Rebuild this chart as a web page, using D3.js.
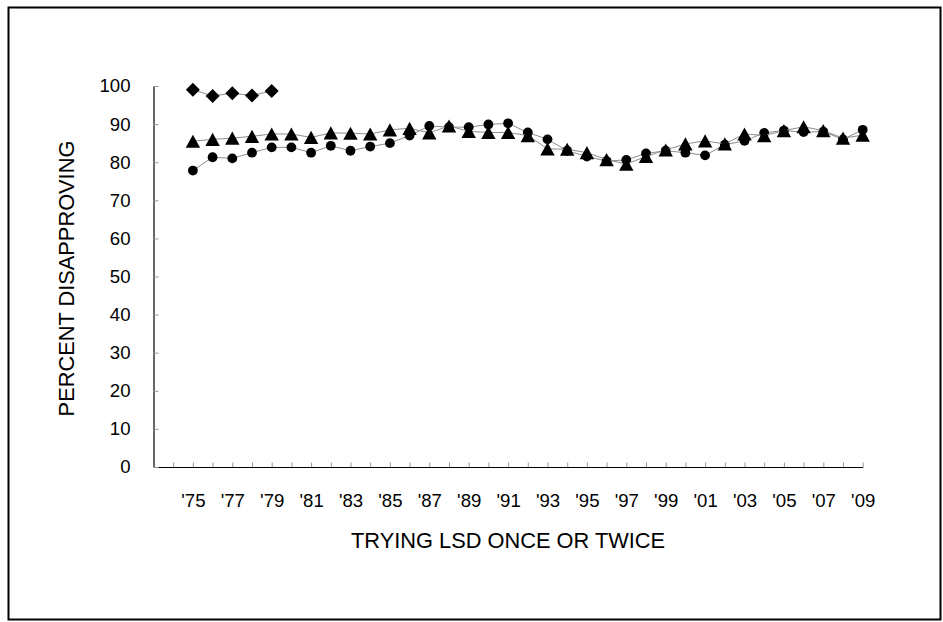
<!DOCTYPE html>
<html>
<head>
<meta charset="utf-8">
<script src="https://cdn.jsdelivr.net/npm/d3@7"></script>
<style>
  html, body { margin: 0; padding: 0; background: #fff; }
  svg { display: block; }
  text { font-family: "Liberation Sans", Arial, sans-serif; fill: #000; }
</style>
</head>
<body>
<svg id="chart" width="943" height="622"></svg>
<script>
// ---- data ----
const years = [1975,1976,1977,1978,1979,1980,1981,1982,1983,1984,1985,1986,1987,1988,1989,1990,1991,1992,1993,1994,1995,1996,1997,1998,1999,2000,2001,2002,2003,2004,2005,2006,2007,2008,2009];
const diamondYears = [1975,1976,1977,1978,1979];
const diamondValues = [99.0, 97.4, 98.1, 97.5, 98.7];
const triangleValues = [85.5,86.0,86.3,86.8,87.4,87.4,86.5,87.7,87.6,87.4,88.5,88.9,87.7,89.5,88.1,87.8,87.8,87.0,83.5,83.4,82.5,80.7,79.5,81.5,83.2,84.8,85.6,84.8,87.4,87.0,88.3,89.3,88.3,86.3,87.1];
const circleValues = [77.8,81.3,81.0,82.5,83.9,83.9,82.5,84.3,83.0,84.1,85.0,87.0,89.5,89.2,89.2,89.9,90.2,87.8,86.0,83.0,81.5,80.3,80.6,82.3,83.0,82.5,81.8,84.6,85.6,87.7,88.3,87.9,88.0,86.0,88.5];
const xTickYears = [1974,1975,1976,1977,1978,1979,1980,1981,1982,1983,1984,1985,1986,1987,1988,1989,1990,1991,1992,1993,1994,1995,1996,1997,1998,1999,2000,2001,2002,2003,2004,2005,2006,2007,2008,2009];
const xLabelYears = [1975,1977,1979,1981,1983,1985,1987,1989,1991,1993,1995,1997,1999,2001,2003,2005,2007,2009];
const xLabels = ["'75","'77","'79","'81","'83","'85","'87","'89","'91","'93","'95","'97","'99","'01","'03","'05","'07","'09"];
const yTicks = [0,10,20,30,40,50,60,70,80,90,100];
const xTitle = "TRYING LSD ONCE OR TWICE";
const yTitle = "PERCENT DISAPPROVING";

// ---- layout ----
const svg = d3.select("#chart");
const plot = { left: 153.5, right: 862.7, top: 86, bottom: 467 };
const x = d3.scaleLinear().domain([1973, 2009]).range([plot.left, plot.right]);
const y = d3.scaleLinear().domain([0, 100]).range([plot.bottom, plot.top]);

// frame
svg.append("rect").attr("x", 8.5).attr("y", 7.5).attr("width", 932).attr("height", 612)
  .attr("fill", "none").attr("stroke", "#000").attr("stroke-width", 2);

const labelFont = 18.6;
const titleFont = 21.8;

// x axis
const labelMap = new Map(xLabelYears.map((yr, i) => [yr, xLabels[i]]));
const xAxis = d3.axisBottom(x).tickValues(xTickYears).tickSizeInner(-4.5).tickSizeOuter(0)
  .tickPadding(27).tickFormat(d => labelMap.get(d) || "");
const gx = svg.append("g").attr("transform", `translate(0,${plot.bottom})`).call(xAxis);
gx.select(".domain").attr("stroke", "#000").attr("stroke-width", 1.2);
gx.selectAll(".tick line").attr("stroke", "#999");
gx.selectAll(".tick text").attr("font-size", labelFont).attr("font-family", "Liberation Sans, Arial, sans-serif").attr("fill", "#000");

// y axis
const yAxis = d3.axisLeft(y).tickValues(yTicks).tickSizeInner(-5).tickSizeOuter(0).tickPadding(23).tickFormat(d3.format("d"));
const gy = svg.append("g").attr("transform", `translate(${plot.left},0)`).call(yAxis);
gy.select(".domain").attr("stroke", "#000").attr("stroke-width", 1.2);
gy.selectAll(".tick line").attr("stroke", "#999");
gy.selectAll(".tick text").attr("font-size", labelFont).attr("font-family", "Liberation Sans, Arial, sans-serif").attr("fill", "#000");

// titles
svg.append("text").attr("x", (plot.left + plot.right) / 2).attr("y", 547.5)
  .attr("text-anchor", "middle").attr("font-size", titleFont).text(xTitle);
svg.append("text").attr("transform", `translate(73.5,${(plot.top + plot.bottom) / 2 + 2}) rotate(-90)`)
  .attr("text-anchor", "middle").attr("font-size", titleFont).text(yTitle);

// series
const line = d3.line().x(d => x(d[0])).y(d => y(d[1]));
const dData = diamondYears.map((yr, i) => [yr, diamondValues[i]]);
const tData = years.map((yr, i) => [yr, triangleValues[i]]);
const cData = years.map((yr, i) => [yr, circleValues[i]]);

const diamondPath = "M0,-7L7,0L0,7L-7,0Z";
const trianglePath = "M0,-6.6L7.2,6.6L-7.2,6.6Z";

function drawSeries(data, drawMarker) {
  svg.append("path").datum(data).attr("d", line)
    .attr("fill", "none").attr("stroke", "#8c8c8c").attr("stroke-width", 1);
  drawMarker(svg.append("g").selectAll("g").data(data).join("g")
    .attr("transform", d => `translate(${x(d[0])},${y(d[1])})`));
}

drawSeries(dData, g => g.append("path").attr("d", diamondPath).attr("fill", "#000"));
drawSeries(cData, g => g.append("circle").attr("r", 4.9).attr("fill", "#000"));
drawSeries(tData, g => g.append("path").attr("d", trianglePath).attr("fill", "#000"));
</script>
</body>
</html>
